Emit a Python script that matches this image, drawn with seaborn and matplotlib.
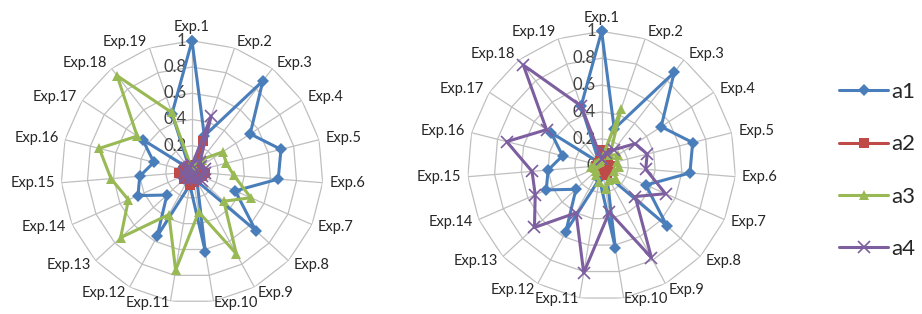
import numpy as np
import pandas as pd
import matplotlib
matplotlib.use("Agg")
import matplotlib.pyplot as plt
import seaborn as sns

sns.set_style("white")
plt.rcParams['font.family'] = ['Lato', 'DejaVu Sans']

exps = [f"Exp.{i}" for i in range(1, 20)]
ring_values = [0.2, 0.4, 0.6, 0.8, 1.0]
ring_labels = ["0", "0.2", "0.4", "0.6", "0.8", "1"]

a1 = [1.0, 0.29, 0.88, 0.53, 0.70, 0.66, 0.36, 0.66, 0.08, 0.62,
      0.10, 0.56, 0.26, 0.45, 0.40, 0.30, 0.45, 0.03, 0.47]

left_a2 = [0.05, 0.25, 0.05, 0.04, 0.06, 0.10, 0.08, 0.05, 0.06, 0.08,
           0.10, 0.05, 0.08, 0.06, 0.10, 0.06, 0.05, 0.04, 0.05]
left_a3 = [0.02, 0.05, 0.12, 0.28, 0.27, 0.32, 0.49, 0.33, 0.71, 0.31,
           0.76, 0.37, 0.74, 0.53, 0.62, 0.73, 0.50, 0.93, 0.48]
left_a4 = [0.05, 0.45, 0.10, 0.08, 0.10, 0.10, 0.08, 0.10, 0.06, 0.05,
           0.05, 0.05, 0.06, 0.05, 0.06, 0.05, 0.05, 0.04, 0.04]

right_a2 = [0.12, 0.10, 0.05, 0.04, 0.05, 0.06, 0.05, 0.04, 0.08, 0.05,
            0.04, 0.03, 0.04, 0.03, 0.04, 0.03, 0.03, 0.02, 0.04]
right_a3 = [0.05, 0.45, 0.10, 0.15, 0.12, 0.13, 0.10, 0.15, 0.12, 0.18,
            0.12, 0.08, 0.06, 0.05, 0.08, 0.05, 0.04, 0.03, 0.04]
right_a4 = [0.05, 0.10, 0.15, 0.30, 0.35, 0.33, 0.52, 0.34, 0.78, 0.35,
            0.81, 0.40, 0.68, 0.54, 0.52, 0.73, 0.49, 0.95, 0.47]

series_names = ["a1", "a2", "a3", "a4"]
colors = {"a1": "#4a7ebb", "a2": "#be4b48", "a3": "#98b954", "a4": "#7d5fa0"}
markers = {"a1": "D", "a2": "s", "a3": "^", "a4": "x"}
msizes = {"a1": 6, "a2": 7, "a3": 7.5, "a4": 8}

n = len(exps)
theta = np.linspace(0, 2 * np.pi, n, endpoint=False)
theta_closed = np.append(theta, 2 * np.pi)


def radar(ax, data):
    ax.set_theta_zero_location("N")
    ax.set_theta_direction(-1)
    ax.grid(False)
    ax.spines['polar'].set_visible(False)
    ax.set_xticks([])
    ax.set_yticks([])
    # polygon grid like Excel
    for v in ring_values:
        ax.plot(theta_closed, [v] * (n + 1), color="#bfbfbf", lw=0.9, zorder=1)
    for t in theta:
        ax.plot([t, t], [0, 1.0], color="#bfbfbf", lw=0.9, zorder=1)

    for name in series_names:
        vals = list(data[name])
        df = pd.DataFrame({"theta": theta_closed, "value": vals + vals[:1]})
        sns.lineplot(data=df, x="theta", y="value", sort=False, estimator=None,
                     color=colors[name], marker=markers[name], ms=msizes[name],
                     mew=1.2 if name == "a4" else 0, mec=colors[name],
                     lw=2.2, label=name, ax=ax, zorder=3, clip_on=False)

    ax.set_ylim(0, 1.0)
    ax.set_xlabel("")
    ax.set_ylabel("")

    for v, lab in zip([0] + ring_values, ring_labels):
        ax.annotate(lab, xy=(0, v), xytext=(-4, 0), textcoords="offset points",
                    ha="right", va="center", fontsize=12, color="#404040", zorder=2)

    for t, lab in zip(theta, exps):
        s = np.sin(t)
        c = np.cos(t)
        if abs(s) < 0.05:
            ha = "center"
        elif s > 0:
            ha = "left"
        else:
            ha = "right"
        va = "bottom" if c > 0.99 else "center"
        r = 1.01 if c < -0.9 else 1.05
        ax.text(t, r, lab, ha=ha, va=va, fontsize=10.5, color="#262626")
    if ax.get_legend() is not None:
        ax.get_legend().remove()


fig = plt.figure(figsize=(9.22, 3.14), dpi=100)
ax1 = fig.add_axes([0.064, 0.035, 0.2885, 0.835], projection="polar")
ax2 = fig.add_axes([0.505, 0.045, 0.295, 0.855], projection="polar")

radar(ax1, {"a1": a1, "a2": left_a2, "a3": left_a3, "a4": left_a4})
radar(ax2, {"a1": a1, "a2": right_a2, "a3": right_a3, "a4": right_a4})

handles, labels = ax2.get_legend_handles_labels()
fig.legend(handles, labels, loc="center left", bbox_to_anchor=(0.908, 0.457),
           frameon=False, fontsize=16, labelspacing=1.45, handlelength=2.2,
           handletextpad=0.15, borderpad=0.1, borderaxespad=0)

fig.savefig("out.png", dpi=100)
